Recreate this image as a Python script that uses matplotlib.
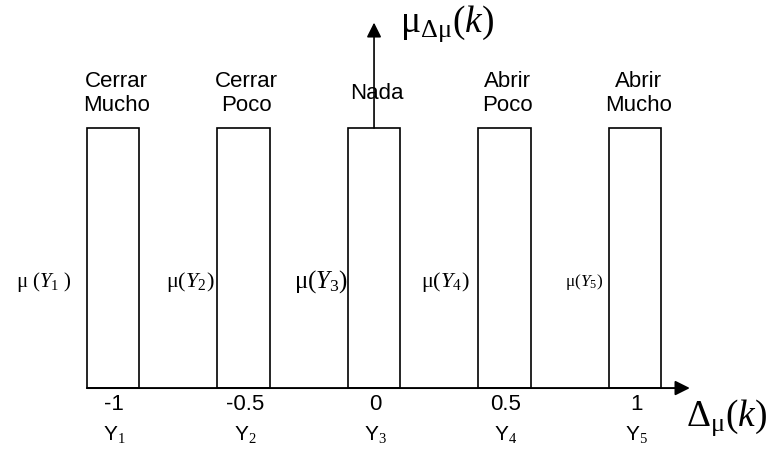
import numpy as np
import matplotlib
matplotlib.use("Agg")
import matplotlib.pyplot as plt

plt.rcParams['mathtext.fontset'] = 'custom'
plt.rcParams['mathtext.rm'] = 'Liberation Serif'
plt.rcParams['mathtext.it'] = 'Liberation Serif:italic'
plt.rcParams['mathtext.sf'] = 'Liberation Sans'

# data
centers = [-1, -0.5, 0, 0.5, 1]
membership = [1, 1, 1, 1, 1]
names = ['Cerrar\nMucho', 'Cerrar\nPoco', 'Nada', 'Abrir\nPoco', 'Abrir\nMucho']
tick_labels = ['-1', '-0.5', '0', '0.5', '1']
y_names = ['$\\mathsf{Y}_1$', '$\\mathsf{Y}_2$', '$\\mathsf{Y}_3$', '$\\mathsf{Y}_4$', '$\\mathsf{Y}_5$']
mu_labels = ['$\\mathrm{\\mu}\\ (Y_1\\ )$', '$\\mathrm{\\mu}(Y_2)$', '$\\mathrm{\\mu}(Y_3)$',
             '$\\mathrm{\\mu}(Y_4)$', '$\\mathrm{\\mu}(Y_5)$']

width = 0.2
mu_sizes = [15, 16, 18, 16, 12.5]
mu_gap = [0.058, 0.012, 0.0, 0.035, 0.023]

fig = plt.figure(figsize=(7.76, 4.51), dpi=100)
ax = fig.add_axes([0, 0, 1, 1])
ax.set_xlim(-1.433, 1.540)
ax.set_ylim(-0.242, 1.492)
ax.axis('off')

ax.bar(centers, membership, width=width, fill=False, edgecolor='black', linewidth=1.2)

# axes arrows
ax.annotate('', xy=(1.21, 0), xytext=(-1.1, 0),
            arrowprops=dict(arrowstyle='-|>', color='black', lw=1.4, mutation_scale=22,
                            shrinkA=0, shrinkB=0))
ax.annotate('', xy=(0, 1.405), xytext=(0, 1.0),
            arrowprops=dict(arrowstyle='-|>', color='black', lw=1.2, mutation_scale=22,
                            shrinkA=0, shrinkB=0))

for i, c in enumerate(centers):
    ax.text(c + 0.012, 1.133, names[i], ha='center', va='center', fontsize=16,
            family='Liberation Sans', linespacing=1.2)
    ax.text(c + 0.005, -0.064, tick_labels[i], ha='center', va='center', fontsize=16,
            family='Liberation Sans')
    ax.text(c + 0.005, -0.177, y_names[i], ha='center', va='center', fontsize=15)
    ax.text(c - width / 2 - mu_gap[i], 0.408, mu_labels[i], ha='right', va='center',
            fontsize=mu_sizes[i])

ax.text(1.352, -0.112, '$\\mathrm{\\Delta}_{\\mathrm{\\mu}}(k)$', ha='center', va='center',
        fontsize=27)
ax.text(0.10, 1.40, '$\\mathrm{\\mu}_{\\mathrm{\\Delta\\mu}}(k)$', ha='left', va='center',
        fontsize=27)

fig.savefig('out.png', dpi=100, facecolor='white')
